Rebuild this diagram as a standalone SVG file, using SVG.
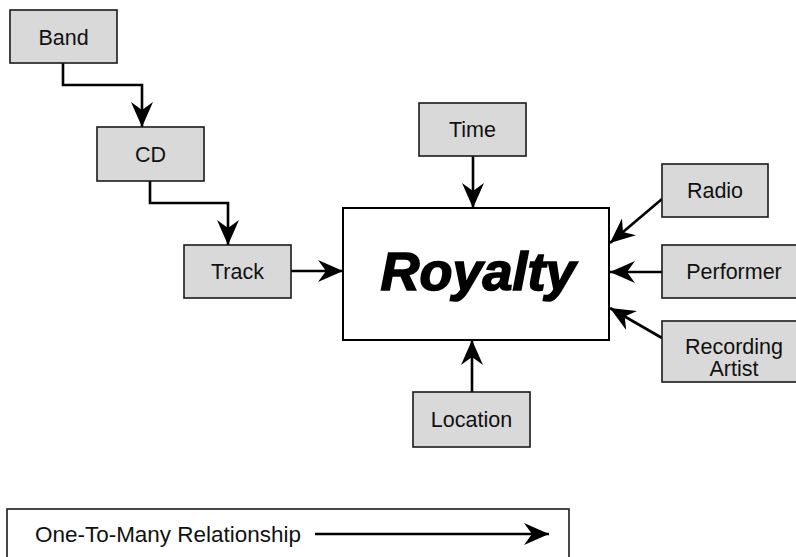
<svg xmlns="http://www.w3.org/2000/svg" width="796" height="557" viewBox="0 0 796 557">
<style>
.box{fill:#d9d9d9;stroke:#1a1a1a;stroke-width:1.6}
.main{fill:#fff;stroke:#000;stroke-width:2}
.lbl{font-family:"Liberation Sans",Arial,sans-serif;font-size:21.5px;fill:#111;text-anchor:middle}
.conn{fill:none;stroke:#000;stroke-width:2.6;marker-end:url(#ah)}
</style>
<defs>
<marker id="ah" markerUnits="userSpaceOnUse" markerWidth="26" markerHeight="22" refX="25" refY="11" orient="auto" viewBox="0 0 26 22">
<path d="M0,0 L25,11 L0,22 L8,11 Z" fill="#000"/>
</marker>
</defs>
<rect width="796" height="557" fill="#fff"/>
<g id="connectors">
<path class="conn" d="M63,63 V85 H142 V127"/>
<path class="conn" d="M150,181 V203 H228 V245"/>
<path class="conn" d="M291,271 H343"/>
<path class="conn" d="M473,156 V208"/>
<path class="conn" d="M662,199 L610,243"/>
<path class="conn" d="M662,272 H610"/>
<path class="conn" d="M662,338 L610,308"/>
<path class="conn" d="M472,392 V340"/>
</g>
<g id="band"><rect class="box" x="10" y="10" width="107" height="53"/><text class="lbl" x="63.5" y="45">Band</text></g>
<g id="cd"><rect class="box" x="97" y="127" width="107" height="54"/><text class="lbl" x="150.5" y="162">CD</text></g>
<g id="track"><rect class="box" x="184" y="245" width="107" height="53"/><text class="lbl" x="237.5" y="279">Track</text></g>
<g id="time"><rect class="box" x="419" y="103" width="107" height="53"/><text class="lbl" x="472.5" y="137">Time</text></g>
<g id="royalty"><rect class="main" x="343" y="208" width="266" height="132"/><text x="478" y="290" font-family="'Liberation Sans',Arial,sans-serif" font-size="54" font-weight="bold" font-style="italic" text-anchor="middle" fill="#000" stroke="#000" stroke-width="1.6">Royalty</text></g>
<g id="radio"><rect class="box" x="662" y="164" width="106" height="53"/><text class="lbl" x="715" y="198">Radio</text></g>
<g id="performer"><rect class="box" x="662" y="245" width="150" height="53"/><text class="lbl" x="734" y="279">Performer</text></g>
<g id="recording-artist"><rect class="box" x="662" y="321" width="150" height="61"/><text class="lbl" x="734" y="354">Recording</text><text class="lbl" x="734" y="376">Artist</text></g>
<g id="location"><rect class="box" x="413" y="392" width="117" height="55"/><text class="lbl" x="471.5" y="427">Location</text></g>
<g id="legend">
<rect x="7" y="509" width="562" height="60" fill="#fff" stroke="#1a1a1a" stroke-width="1.6"/>
<text x="35" y="542" font-family="'Liberation Sans',Arial,sans-serif" font-size="21.5" fill="#111" textLength="266" lengthAdjust="spacingAndGlyphs">One-To-Many Relationship</text>
<path d="M315,534 H549" fill="none" stroke="#000" stroke-width="2.6" marker-end="url(#ah)"/>
</g>
</svg>
